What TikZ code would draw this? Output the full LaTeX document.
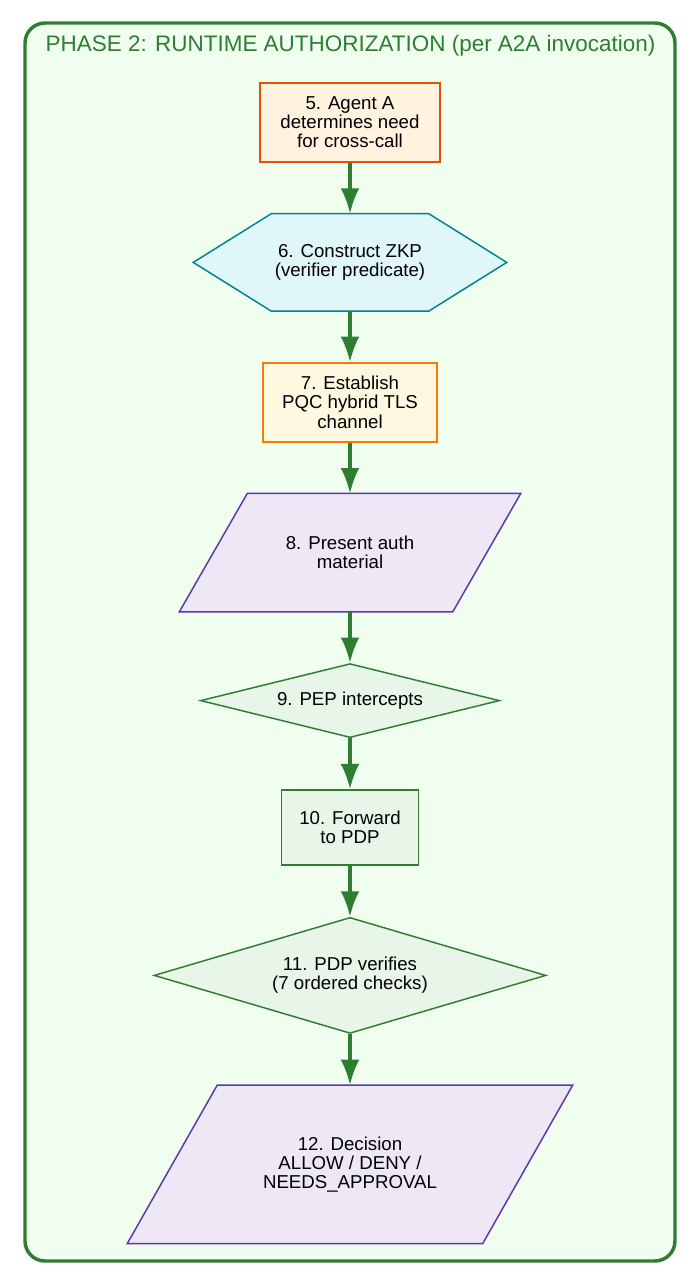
\documentclass[tikz,border=0pt]{standalone}
\usepackage{fontspec}
\setmainfont{Liberation Sans}
\usetikzlibrary{arrows.meta,positioning,shapes.geometric}
\pgfdeclarelayer{back}
\pgfsetlayers{back,main}
\definecolor{phasegreen}{HTML}{2E7D32}
\definecolor{phasebg}{HTML}{F0FEF0}
\definecolor{agentfill}{HTML}{FFF3E0}
\definecolor{agentdraw}{HTML}{E65100}
\definecolor{zkpfill}{HTML}{E0F7FA}
\definecolor{zkpdraw}{HTML}{00838F}
\definecolor{tlsfill}{HTML}{FFF8E1}
\definecolor{tlsdraw}{HTML}{F57C00}
\definecolor{authfill}{HTML}{EDE7F6}
\definecolor{authdraw}{HTML}{5E35B1}
\definecolor{pepfill}{HTML}{E8F5E9}

\begin{document}
\begin{tikzpicture}[x=0.75pt,y=-0.75pt,
  font=\fontsize{14}{14.3}\selectfont,node distance=38.2pt,
  phase/.style={draw=phasegreen,line width=2.6pt,rounded corners=15pt,fill=phasebg},
  base/.style={align=center,line width=1.1pt,inner sep=2pt},
  agentbox/.style={base,rectangle,draw=agentdraw,fill=agentfill},
  zkpline/.style={line width=1.1pt,draw=zkpdraw,fill=zkpfill},
  tlsbox/.style={base,rectangle,draw=tlsdraw,fill=tlsfill},
  authline/.style={line width=1.1pt,draw=authdraw,fill=authfill},
  pepbox/.style={base,draw=phasegreen,fill=pepfill},
  flow/.style={-{Latex[length=19pt,width=14pt]},line width=2.4pt,phasegreen}]
  \useasboundingbox (0,0) rectangle (700,1286);
  \node[anchor=west,text=phasegreen,font=\fontsize{16.85}{19}\selectfont] (title) at (41,46)
    {PHASE 2: RUNTIME AUTHORIZATION (per A2A invocation)};
  \node[agentbox,minimum width=135pt,minimum height=59.25pt] (need) at (350,122.5)
    {5. Agent A\\determines need\\for cross-call};
  \node[base,minimum width=234pt,minimum height=72pt,below=of need] (zkp)
    {6. Construct ZKP\\(verifier predicate)};
  \node[tlsbox,minimum width=130.5pt,minimum height=59.25pt,below=of zkp] (tls)
    {7. Establish\\PQC hybrid TLS\\channel};
  \node[base,minimum width=204pt,minimum height=87.75pt,below=of tls] (present)
    {8. Present auth\\material};
  \node[pepbox,diamond,aspect=4,minimum width=224.25pt,minimum height=55.5pt,below=of present] (pep)
    {9. PEP intercepts};
  \node[pepbox,rectangle,minimum width=102.75pt,minimum height=56.25pt,below=of pep] (fwd)
    {10. Forward\\to PDP};
  \node[pepbox,diamond,aspect=3.4,minimum width=294pt,minimum height=87pt,below=of fwd] (verify)
    {11. PDP verifies\\(7 ordered checks)};
  \node[base,minimum width=265.5pt,minimum height=117.75pt,below=of verify] (decision)
    {12. Decision\\ALLOW / DENY /\\NEEDS\_APPROVAL};
  \begin{pgfonlayer}{back}
    \draw[phase] (25,23) rectangle (675,1261);
    \draw[zkpline] (zkp.west) -- ([xshift=58.5pt]zkp.north west) -- ([xshift=-58.5pt]zkp.north east)
      -- (zkp.east) -- ([xshift=-58.5pt]zkp.south east) -- ([xshift=58.5pt]zkp.south west) -- cycle;
    \draw[authline] ([xshift=25.5pt]present.north west) -- ([xshift=25.5pt]present.north east)
      -- ([xshift=-25.5pt]present.south east) -- ([xshift=-25.5pt]present.south west) -- cycle;
    \draw[authline] ([xshift=33.75pt]decision.north west) -- ([xshift=33.75pt]decision.north east)
      -- ([xshift=-33.75pt]decision.south east) -- ([xshift=-33.75pt]decision.south west) -- cycle;
  \end{pgfonlayer}
  \draw[flow] (need) -- (zkp);
  \draw[flow] (zkp) -- (tls);
  \draw[flow] (tls) -- (present);
  \draw[flow] (present) -- (pep);
  \draw[flow] (pep) -- (fwd);
  \draw[flow] (fwd) -- (verify);
  \draw[flow] (verify) -- (decision);
\end{tikzpicture}
\end{document}
